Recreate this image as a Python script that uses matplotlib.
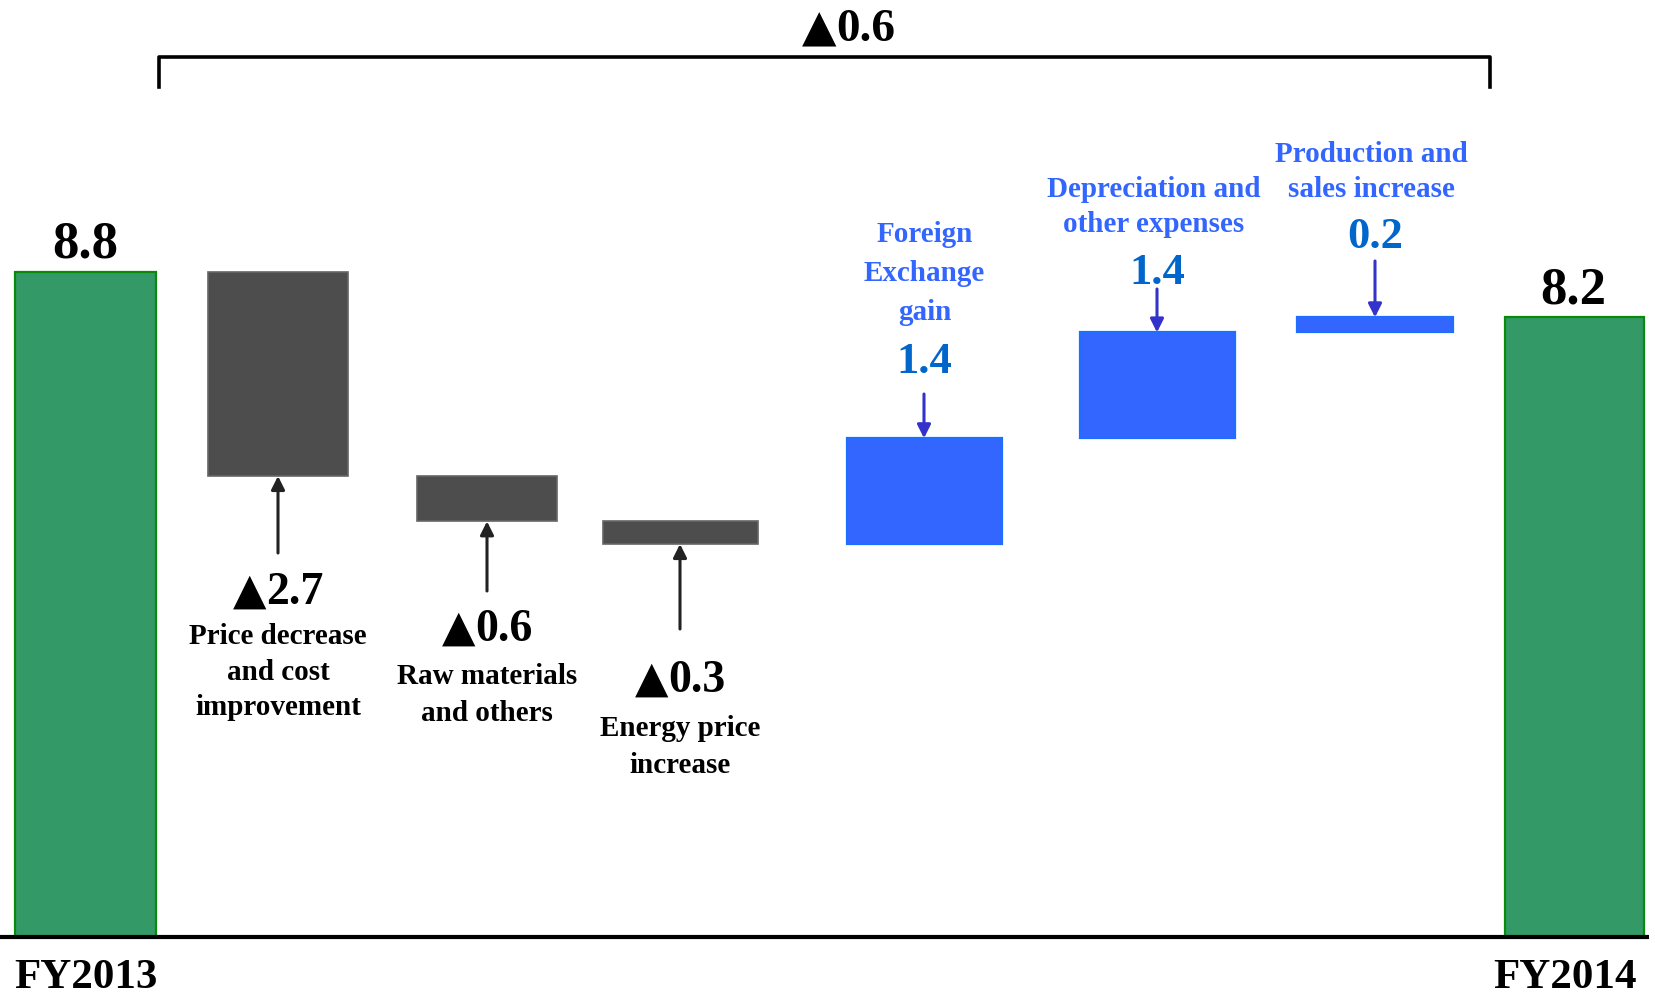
import matplotlib.pyplot as plt
from matplotlib.offsetbox import TextArea, HPacker, AnnotationBbox

plt.rcParams['font.family'] = ['Liberation Serif', 'DejaVu Serif']
plt.rcParams['font.weight'] = 'bold'

# 数据
start_label = 'FY2013'
end_label = 'FY2014'
start_value = 8.8
end_value = 8.2
change_names = [
    ['Price decrease', 'and cost', 'improvement'],
    ['Raw materials', 'and others'],
    ['Energy price', 'increase'],
    ['Foreign', 'Exchange', 'gain'],
    ['Depreciation and', 'other expenses'],
    ['Production and', 'sales increase'],
]
change_values = [-2.7, -0.6, -0.3, 1.4, 1.4, 0.2]

# 版式（像素）
W, H = 1655, 994
base_px = 937          # 横轴所在的像素行
unit_px = 75.57        # 每 1 个单位的像素高度
bar_x = [85.5, 278, 487, 680, 924, 1157, 1375, 1574]
bar_w = [141, 140, 140, 155, 155, 155, 156, 139]

GREEN, GREEN_EDGE = '#339966', '#0a8a0a'
GRAY, GRAY_EDGE = '#4d4d4d', '#666666'
BLUE, BLUE_EDGE = '#3366ff', '#1f6fff'
BLUE_TEXT, BLUE_NUM, BLUE_ARROW = '#3366ff', '#0066cc', '#3333cc'


def fy(px):
    # 像素行 -> 数据坐标
    return (base_px - px) / unit_px


def put_lines(ax, x, y0, lines, step, **kw):
    for i, s in enumerate(lines):
        ax.text(x, fy(y0 + i * step), s, ha='center', va='baseline', **kw)


def put_value(ax, x, y_base, v, size, color='black'):
    # 负值前面加黑三角（▲用 DejaVu Sans 画，字形更大）
    num = TextArea('%.1f' % abs(v), textprops=dict(fontsize=size, color=color))
    if v < 0:
        tri = TextArea('▲', textprops=dict(fontsize=size * 0.95, color=color,
                                            family='DejaVu Sans'))
        box = HPacker(children=[tri, num], align='baseline', pad=0, sep=0)
    else:
        box = num
    ab = AnnotationBbox(box, (x, fy(y_base)), xycoords='data',
                        box_alignment=(0.5, 0.0), frameon=False, pad=0,
                        annotation_clip=False)
    ax.add_artist(ab)


fig = plt.figure(figsize=(W / 100, H / 100), dpi=100)
ax = fig.add_axes([0, (H - base_px) / H, 1, base_px / H])
ax.set_xlim(0, W)
ax.set_ylim(0, base_px / unit_px)
ax.axis('off')

# 起点和终点
ax.bar(bar_x[0], start_value, width=bar_w[0], color=GREEN, edgecolor=GREEN_EDGE, linewidth=1.6)
ax.bar(bar_x[-1], end_value, width=bar_w[-1], color=GREEN, edgecolor=GREEN_EDGE, linewidth=1.6)
ax.text(bar_x[0], fy(257), '%.1f' % start_value, ha='center', va='baseline', fontsize=38)
ax.text(bar_x[-1] - 1, fy(304), '%.1f' % end_value, ha='center', va='baseline', fontsize=38)
ax.text(85.5, fy(988), start_label, ha='center', va='baseline', fontsize=31)
ax.text(1565, fy(988), end_label, ha='center', va='baseline', fontsize=31)

# 各因素（瀑布）
level = start_value
tops = []
for i, v in enumerate(change_values):
    bottom = min(level, level + v)
    x = bar_x[i + 1]
    if v < 0:
        ax.bar(x, abs(v), bottom=bottom, width=bar_w[i + 1], color=GRAY,
               edgecolor=GRAY_EDGE, linewidth=1.2)
    else:
        ax.bar(x, abs(v), bottom=bottom, width=bar_w[i + 1], color=BLUE,
               edgecolor=BLUE_EDGE, linewidth=1.6)
    level += v
    tops.append((bottom, bottom + abs(v)))

# 减少项：箭头从下往上指向柱子
dec_arrow_tail = [553, 591, 629]
dec_num_base = [614, 651, 702]   # 盒子底边（含下沉部分）
dec_name_base = [644, 684, 736]
dec_name_step = [35.5, 37, 37]
for i in range(3):
    x = bar_x[i + 1]
    ax.annotate('', xy=(x, tops[i][0]), xytext=(x, fy(dec_arrow_tail[i])),
                arrowprops=dict(arrowstyle='-|>', color='#222222', lw=2.2,
                                mutation_scale=20, shrinkA=0, shrinkB=0))
    put_value(ax, x, dec_num_base[i], change_values[i], 33)
    put_lines(ax, x, dec_name_base[i], change_names[i], dec_name_step[i], fontsize=21)

# 增加项：箭头从上往下指向柱子
inc_arrow_tail = [394, 289, 261]
inc_num_base = [373, 284, 248]
inc_name_base = [242, 197, 162]
inc_name_step = [39, 35, 35]
inc_name_x = [924.6, 1153.7, 1371]
for j in range(3):
    i = j + 3
    x = bar_x[i + 1]
    ax.annotate('', xy=(x, tops[i][1]), xytext=(x, fy(inc_arrow_tail[j])),
                arrowprops=dict(arrowstyle='-|>', color=BLUE_ARROW, lw=2.2,
                                mutation_scale=20, shrinkA=0, shrinkB=0))
    ax.text(x, fy(inc_num_base[j]), '%.1f' % change_values[i], ha='center',
            va='baseline', fontsize=32, color=BLUE_NUM)
    put_lines(ax, inc_name_x[j], inc_name_base[j], change_names[i], inc_name_step[j],
              fontsize=21, color=BLUE_TEXT)

# 横轴
ax.plot([0, 1649], [0, 0], color='black', lw=3, clip_on=False, solid_capstyle='butt')

# 顶部总变化
ax.plot([159, 159, 1490, 1490], [fy(87), fy(57), fy(57), fy(87)], color='black',
        lw=2.6, clip_on=False)
put_value(ax, 848.6, 51, end_value - start_value, 34)

plt.savefig('out.png', dpi=100)
